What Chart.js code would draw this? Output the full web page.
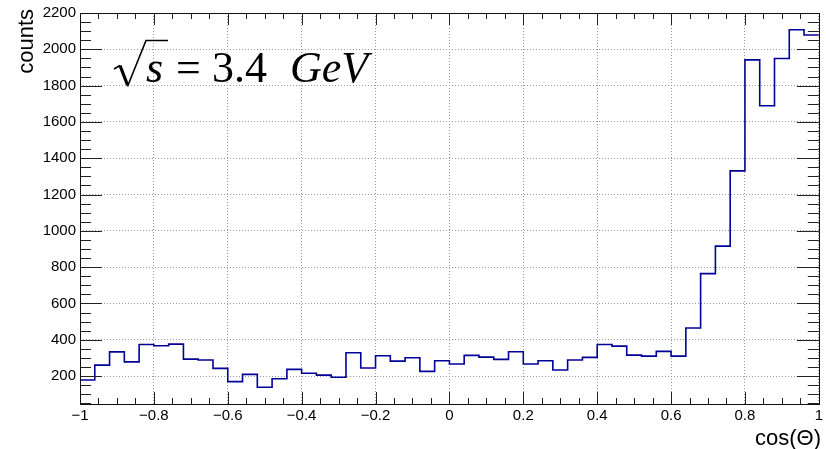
<!DOCTYPE html>
<html>
<head>
<meta charset="utf-8">
<script src="https://cdn.jsdelivr.net/npm/chart.js@4/dist/chart.umd.min.js"></script>
<style>
html,body{margin:0;padding:0;background:#fff;}
#wrap{position:relative;width:826px;height:449px;}
</style>
</head>
<body>
<div id="wrap"><canvas id="c" width="826" height="449"></canvas></div>
<script>
// bin left edges of cos(Theta)
const binEdges = [-1, -0.96, -0.92, -0.88, -0.84, -0.8, -0.76, -0.72, -0.68, -0.64,
  -0.6, -0.56, -0.52, -0.48, -0.44, -0.4, -0.36, -0.32, -0.28, -0.24,
  -0.2, -0.16, -0.12, -0.08, -0.04, 0, 0.04, 0.08, 0.12, 0.16,
  0.2, 0.24, 0.28, 0.32, 0.36, 0.4, 0.44, 0.48, 0.52, 0.56,
  0.6, 0.64, 0.68, 0.72, 0.76, 0.8, 0.84, 0.88, 0.92, 0.96];
const upperEdge = 1;
// counts per bin
const counts = [178, 260, 333, 278, 374, 367, 376, 293, 288, 242,
  169, 209, 138, 185, 237, 215, 205, 193, 328, 244,
  312, 282, 301, 226, 284, 266, 314, 304, 292, 334,
  266, 284, 233, 288, 303, 374, 365, 315, 310, 336,
  310, 465, 764, 916, 1330, 1942, 1689, 1949, 2108, 2079];
const xTickLabels = [-1, -0.8, -0.6, -0.4, -0.2, 0, 0.2, 0.4, 0.6, 0.8, 1];
const yTickLabels = [200, 400, 600, 800, 1000, 1200, 1400, 1600, 1800, 2000, 2200];
const yTitle = 'counts';
const xTitle = 'cos(\u0398)';

const points = binEdges.map((e, i) => ({x: e, y: counts[i]}));
points.push({x: upperEdge, y: counts[counts.length - 1]});

const fmt = v => {
  const r = Math.round(v * 10) / 10;
  return String(r).replace('-', '\u2212');
};

const rootFrame = {
  id: 'rootFrame',
  afterDatasetsDraw(chart) {
    const {ctx, chartArea: a, scales: {x, y}} = chart;
    ctx.save();
    ctx.strokeStyle = '#222';
    ctx.lineWidth = 1;
    ctx.beginPath();
    // x ticks: major 0.2, minor 0.05
    for (let k = 0; k <= 40; k++) {
      const v = -1 + k * 0.05;
      const px = Math.round(x.getPixelForValue(v)) + 0.5;
      const len = (k % 4 === 0) ? 12 : 6;
      ctx.moveTo(px, a.bottom); ctx.lineTo(px, a.bottom - len);
      ctx.moveTo(px, a.top); ctx.lineTo(px, a.top + len);
    }
    // y ticks: major 200, minor 50
    for (let v = 50; v <= 2200; v += 50) {
      if (v < y.min) continue;
      const py = Math.round(y.getPixelForValue(v)) + 0.5;
      const len = (v % 200 === 0) ? 22 : 11;
      ctx.moveTo(a.left, py); ctx.lineTo(a.left + len, py);
      ctx.moveTo(a.right, py); ctx.lineTo(a.right - len, py);
    }
    ctx.stroke();
    ctx.strokeStyle = '#111';
    ctx.strokeRect(Math.round(a.left) + 0.5, Math.round(a.top) + 0.5,
      Math.round(a.right - a.left), Math.round(a.bottom - a.top));

    // axis titles
    ctx.fillStyle = '#000';
    ctx.font = '22px "Liberation Sans", Arial, sans-serif';
    ctx.textAlign = 'right';
    ctx.textBaseline = 'alphabetic';
    ctx.fillText(xTitle, 821, 445);
    ctx.save();
    ctx.translate(33, 9);
    ctx.rotate(-Math.PI / 2);
    ctx.textAlign = 'right';
    ctx.fillText(yTitle, 0, 0);
    ctx.restore();

    // sqrt(s) = 3.4 GeV label
    ctx.strokeStyle = '#000';
    ctx.lineJoin = 'miter';
    ctx.beginPath();
    ctx.lineWidth = 1.6;
    ctx.moveTo(114, 69); ctx.lineTo(120, 65.5);
    ctx.stroke();
    ctx.beginPath();
    ctx.lineWidth = 3.2;
    ctx.moveTo(120, 65.5); ctx.lineTo(127.5, 85);
    ctx.stroke();
    ctx.beginPath();
    ctx.lineWidth = 1.6;
    ctx.moveTo(127.5, 86.5); ctx.lineTo(146, 40.5); ctx.lineTo(168, 40.5);
    ctx.stroke();
    ctx.textAlign = 'left';
    ctx.font = 'italic 44px "Liberation Serif", "Times New Roman", serif';
    ctx.fillText('s', 146, 82);
    ctx.font = '44px "Liberation Serif", "Times New Roman", serif';
    ctx.fillText('=', 176, 82);
    ctx.fillText('3.4', 212, 82);
    ctx.font = 'italic 44px "Liberation Serif", "Times New Roman", serif';
    ctx.fillText('GeV', 290, 82);
    ctx.restore();
  }
};

new Chart(document.getElementById('c'), {
  type: 'line',
  data: {
    datasets: [{
      data: points,
      stepped: 'before',
      borderColor: '#000099',
      borderWidth: 1.6,
      pointRadius: 0,
      fill: false,
      tension: 0
    }]
  },
  options: {
    responsive: false,
    animation: false,
    devicePixelRatio: 1,
    layout: {padding: {top: 12, right: 7, left: 0, bottom: 0}},
    plugins: {legend: {display: false}, tooltip: {enabled: false}},
    scales: {
      x: {
        type: 'linear',
        min: -1, max: 1,
        afterFit: s => { s.height = 45; },
        afterBuildTicks: s => { s.ticks = xTickLabels.map(v => ({value: v})); },
        ticks: {
          autoSkip: false, maxRotation: 0, minRotation: 0,
          padding: 3, color: '#000',
          font: {family: '"Liberation Sans", Arial, sans-serif', size: 15},
          callback: v => fmt(v)
        },
        grid: {color: '#999', lineWidth: 1, drawTicks: false},
        border: {display: false, dash: [1, 2]}
      },
      y: {
        type: 'linear',
        min: 46, max: 2200,
        afterFit: s => { s.width = 80; },
        afterBuildTicks: s => { s.ticks = yTickLabels.map(v => ({value: v})); },
        ticks: {
          autoSkip: false, padding: 4, color: '#000',
          font: {family: '"Liberation Sans", Arial, sans-serif', size: 15},
          callback: v => String(v)
        },
        grid: {color: '#999', lineWidth: 1, drawTicks: false},
        border: {display: false, dash: [1, 2]}
      }
    }
  },
  plugins: [rootFrame]
});
</script>
</body>
</html>
